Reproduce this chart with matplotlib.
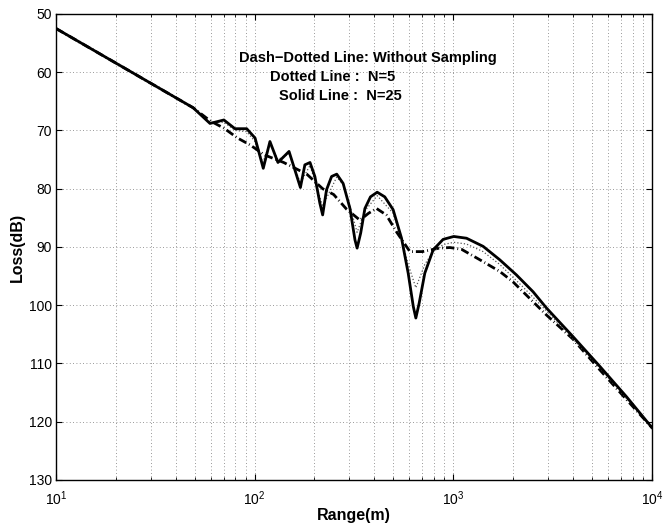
import numpy as np
import matplotlib
matplotlib.use('Agg')
import matplotlib.pyplot as plt
from matplotlib.ticker import LogLocator, NullFormatter

plt.rcParams['font.family'] = ['Liberation Sans', 'DejaVu Sans']
plt.rcParams['mathtext.default'] = 'regular'

# 实线: N=25
range_solid = [10, 30, 49, 59.6, 70, 79.6, 91.2, 100.5, 110.5, 119.4, 131, 149, 170,
               179, 190, 201, 213, 220, 230, 244, 259, 279, 302, 320, 328, 342, 359,
               383, 414, 452, 498, 549, 593, 629, 648, 673, 719, 792, 889, 1006, 1166,
               1414, 1714, 2080, 2524, 2950, 4009, 5470, 7447, 10000]
loss_solid = [52.5, 61.9, 66.1, 68.8, 68.2, 69.7, 69.7, 71.3, 76.5, 71.9, 75.5, 73.6, 79.8,
              75.9, 75.5, 77.9, 82.5, 84.5, 80.2, 77.9, 77.5, 79.1, 83.4, 88.8, 90.2, 87.6, 83.4,
              81.4, 80.6, 81.4, 83.6, 88.5, 94.5, 100.2, 102.2, 99.7, 94.5, 90.5, 88.7, 88.2, 88.5,
              89.9, 92.2, 94.8, 97.7, 100.5, 105.4, 110.5, 115.7, 121.0]

# 点划线: 不采样
range_dashdot = [10, 30, 49, 60, 70, 82, 95, 112, 140, 183, 220, 250, 290, 339, 375, 411,
                 460, 520, 605, 700, 850, 962, 1100, 1361, 1714, 2000, 2950, 4000, 5470,
                 7500, 10000]
loss_dashdot = [52.5, 61.9, 66.1, 68.4, 69.6, 71.3, 72.5, 74.2, 75.5, 77.5, 80.0, 81.0, 83.5,
                85.4, 84.2, 83.4, 84.5, 87.5, 90.8, 90.8, 90.2, 90.1, 90.4, 92.2, 94.2, 96.0,
                101.7, 105.8, 111.1, 116.3, 121.0]

# 虚线(点): N=5
range_dot = [10, 30, 49, 59.6, 70, 80, 91, 100, 110, 119, 131, 149, 170, 190, 220, 259,
             279, 302, 328, 359, 414, 498, 549, 593, 648, 719, 792, 889, 1006, 1166, 1414,
             1714, 2249, 2950, 4009, 5470, 7447, 10000]
loss_dot = [52.5, 61.9, 66.1, 68.6, 68.6, 70.0, 70.2, 71.8, 75.5, 72.3, 75.0, 74.0, 79.0,
            76.0, 83.0, 78.0, 79.3, 83.0, 87.5, 83.8, 81.2, 84.2, 88.6, 93.0, 97.0, 93.0,
            90.8, 89.6, 89.2, 89.5, 90.8, 93.0, 96.9, 101.0, 105.8, 110.8, 116.0, 121.0]

fig = plt.figure(figsize=(6.71, 5.26), dpi=100)
ax = fig.add_axes([0.0835, 0.0875, 0.888, 0.886])

ax.plot(range_dashdot, loss_dashdot, color='black', linewidth=2.0,
        linestyle=(0, (3, 1.1, 0.3, 1.1)))
ax.plot(range_dot, loss_dot, color='#555555', linewidth=0.9, linestyle=':')
ax.plot(range_solid, loss_solid, color='black', linewidth=2.0)

ax.set_xscale('log')
ax.set_xlim(10, 10000)
ax.set_ylim(130, 50)
ax.set_yticks(np.arange(50, 131, 10))
ax.xaxis.set_minor_locator(LogLocator(base=10, subs=np.arange(2, 10)))
ax.xaxis.set_minor_formatter(NullFormatter())

ax.grid(True, which='major', linestyle=(0, (1, 3)), color='#777777', linewidth=0.6)
ax.grid(True, which='minor', axis='x', linestyle=(0, (1, 3)), color='#777777', linewidth=0.6)

ax.tick_params(which='both', direction='in', top=True, right=True, labelsize=10)
ax.tick_params(which='major', length=4)
ax.tick_params(which='minor', length=2)
ax.tick_params(axis='x', which='major', pad=7)
ax.tick_params(axis='y', which='major', pad=3)
for s in ax.spines.values():
    s.set_linewidth(1.0)

ax.set_xlabel('Range(m)', fontsize=11.5, fontweight='bold', labelpad=0)
ax.set_ylabel('Loss(dB)', fontsize=11.5, fontweight='bold', labelpad=3)

ax.text(0.307, 0.906, 'Dash\u2212Dotted Line: Without Sampling', transform=ax.transAxes,
        fontsize=10.5, fontweight='bold', ha='left', va='center')
ax.text(0.359, 0.865, 'Dotted Line :  N=5', transform=ax.transAxes,
        fontsize=10.5, fontweight='bold', ha='left', va='center')
ax.text(0.374, 0.824, 'Solid Line :  N=25', transform=ax.transAxes,
        fontsize=10.5, fontweight='bold', ha='left', va='center')

fig.savefig('out.png', dpi=100)
